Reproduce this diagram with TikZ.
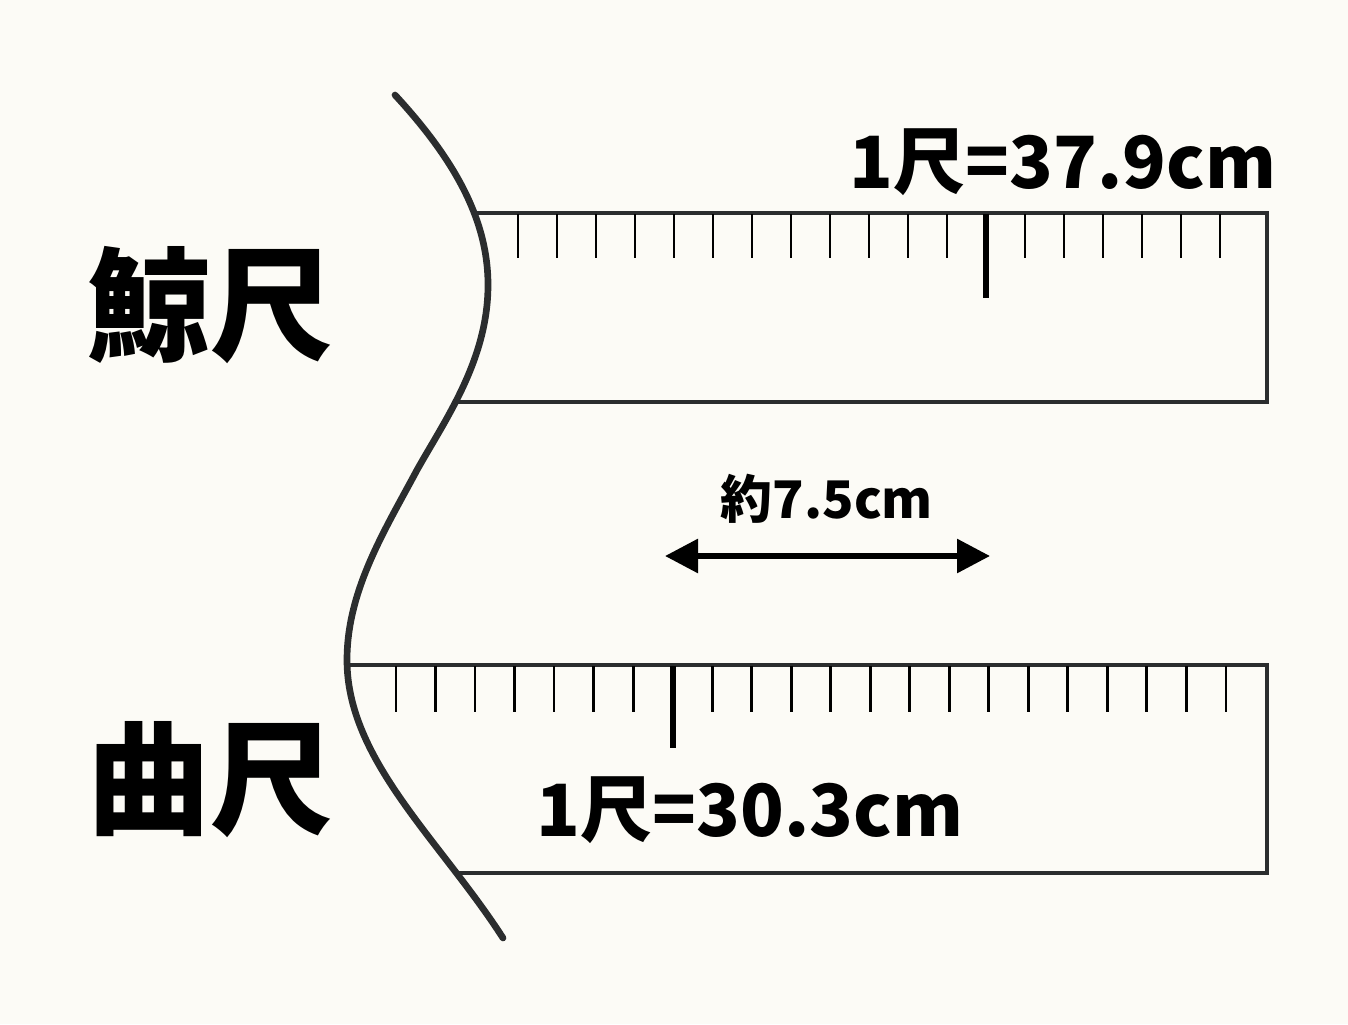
\documentclass[tikz,border=0pt]{standalone}
\usepackage{fontspec}
\usepackage{xcolor}
\usepackage{tikz}
\usetikzlibrary{arrows.meta}
\newfontfamily\jpfont{Noto Sans CJK JP}
\definecolor{paper}{HTML}{FCFBF6}
\definecolor{ink}{HTML}{2B2D2E}

\begin{document}
\begin{tikzpicture}[x=0.02cm, y=-0.02cm,
    rulerline/.style={ink, line width=2pt, line join=miter},
    minortick/.style={black, line width=1.6pt},
    majortick/.style={black, line width=3.4pt},
    biglabel/.style={font=\jpfont\bfseries\fontsize{70}{80}\selectfont},
    sizelabel/.style={font=\jpfont\bfseries\fontsize{41}{48}\selectfont},
    smalllabel/.style={font=\jpfont\bfseries\fontsize{29.5}{34}\selectfont},
    dimarrow/.style={line width=3.4pt, {Triangle[length=0.66cm, width=0.66cm]}-{Triangle[length=0.66cm, width=0.66cm]}}]
    % Paper
    \fill[paper] (0,0) rectangle (1348,1024);
    \useasboundingbox (0,0) rectangle (1348,1024);

    % Whale ruler (top)
    \draw[rulerline] (475,213) -- (1267,213) -- (1267,402) -- (458,402);
    \foreach \k in {0,...,18}
        \draw[minortick] ({518+39*\k},214) -- ++(0,44);
    \draw[majortick] (986,214) -- (986,298);
    \node[sizelabel] (jingsize) at (1063,162) {1尺=37.9cm};

    % Carpenter ruler (bottom)
    \draw[rulerline] (348,665) -- (1267,665) -- (1267,873) -- (455,873);
    \foreach \k in {0,...,21}
        \draw[minortick] ({396+39.52*\k},666) -- ++(0,46);
    \draw[majortick] (673,666) -- (673,748);
    \node[sizelabel] (kanesize) at (750,810) {1尺=30.3cm};

    % Left curve
    \draw[ink, line width=3.8pt, line cap=round]
        (395,95) .. controls (455,160) and (488,220) .. (488,285)
        .. controls (488,360) and (445,420) .. (417,470)
        .. controls (385,530) and (347,590) .. (347,660)
        .. controls (347,760) and (440,840) .. (503,938);

    % Names
    \node[biglabel] (jing) at (210,305) {鯨尺};
    \node[biglabel] (kane) at (210,780) {曲尺};

    % Difference
    \coordinate (diffL) at (665,556);
    \coordinate (diffR) at (990,556);
    \draw[dimarrow] (diffL) -- (diffR);
    \node[smalllabel] (diff) at (827,499) {約7.5cm};
\end{tikzpicture}
\end{document}
